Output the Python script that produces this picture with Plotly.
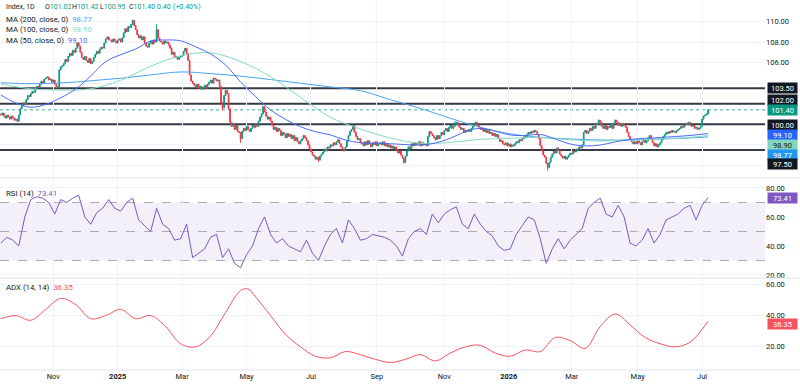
import pandas as pd
import plotly.graph_objects as go

# ---------------- data ----------------
START = "2024-09-13"
CLOSES = [
    100.9, 101.1, 100.8, 100.6, 100.9, 100.7, 100.5, 100.8, 100.6, 100.4, 100.5, 100.3,
    100.9, 101.5, 101.8, 102.1, 102.0, 102.4,
    102.8, 102.7, 103.0, 103.2, 103.1, 103.5, 103.7, 103.6, 103.9, 104.2, 104.0, 104.4, 104.5,
    104.6, 104.3, 104.4, 104.1, 104.3, 103.9, 103.7, 103.6,
    105.3, 105.6,
    105.7, 105.9, 106.3, 106.1, 106.6, 106.9, 106.7, 107.2, 107.0, 107.4, 107.9, 107.6,
    107.0, 106.5, 106.3, 106.6, 106.2, 106.0, 106.4, 105.9, 106.1, 106.5,
    106.8, 107.1, 106.9, 107.3, 107.5, 107.4, 107.9, 108.3, 108.5, 108.2,
    108.2, 108.0, 108.3, 108.1, 107.9, 108.2, 108.3, 108.0,
    108.4, 108.9, 109.3, 109.0, 109.5, 109.4, 109.7, 110.1, 109.6,
    109.2, 108.7, 108.4, 108.6, 108.2, 108.5, 107.9, 107.6, 107.5,
    107.9, 108.1, 107.8, 108.2, 108.0, 109.2, 108.4, 108.1,
    108.0, 107.8, 108.1, 107.9, 108.0, 107.7, 107.4,
    106.8, 107.0, 106.5, 106.6, 106.3, 106.5, 106.6,
    106.7, 107.1, 107.4, 106.9, 106.2,
    104.8, 104.2, 104.0,
    103.8, 103.6, 103.9, 103.5, 103.7, 103.4, 103.6, 103.8, 103.5,
    103.9, 104.1, 104.3, 104.0, 104.5, 104.4, 104.2, 104.3,
    103.7, 102.1, 101.6, 102.8, 103.3,
    103.0, 101.5, 100.2, 99.8, 100.0, 99.5, 99.9, 99.3, 99.2, 98.6,
    99.3, 99.6, 99.4, 99.8, 99.5, 99.3, 99.6, 99.9, 99.7, 100.0, 99.8, 100.3, 100.7, 101.0,
    101.7, 101.2, 100.8, 100.5, 100.7, 100.3,
    99.9, 99.5, 99.7, 99.3, 99.6, 99.4, 98.9, 99.2, 99.0, 98.7, 99.1, 98.8, 99.0,
    98.6, 98.9, 98.4, 98.7, 98.3, 98.1, 98.4,
    98.6, 98.9, 98.7, 98.4, 98.0, 97.6,
    97.3, 97.0, 96.9, 96.6, 96.8, 96.5, 96.9,
    97.1, 97.3, 97.6, 97.4, 97.8, 97.7, 98.0, 97.9, 98.2, 98.0, 98.3, 98.5,
    98.1, 97.8, 97.5, 97.4,
    97.8, 98.4, 98.9, 99.3, 99.5, 99.9,
    99.2, 98.8, 98.5, 98.6, 98.2,
    98.1, 97.9, 98.3, 98.0, 98.4, 98.1, 97.8, 98.2, 98.0, 98.3, 97.9, 98.1, 98.2,
    98.0, 98.3, 97.9, 98.1, 97.8, 98.0, 97.7, 97.9, 97.6,
    97.8, 97.5, 97.2, 97.4, 97.0, 96.7, 96.3, 96.9,
    97.4, 97.8, 97.6, 98.1, 97.9, 98.2, 98.0,
    98.1, 98.3, 97.9, 98.2, 98.0, 98.1, 97.9,
    98.8, 99.3, 99.1, 98.9,
    98.7, 98.5, 98.9, 98.6, 98.9,
    99.2, 99.0, 99.4, 99.6, 99.3, 99.7, 99.9, 99.6, 99.8,
    100.0, 100.2, 99.9,
    99.7, 99.5, 99.6, 99.2, 99.4, 99.3, 99.5, 99.3, 99.6,
    99.8, 100.1, 100.2, 99.9,
    99.7, 99.5, 99.6, 99.3, 99.5, 99.2, 99.4, 99.1,
    99.2, 98.9, 99.1, 98.8, 99.0,
    98.6, 98.3, 98.4, 98.1,
    98.0, 98.2, 97.9, 98.1, 97.8, 98.0, 97.9,
    98.1, 98.3, 98.2, 98.5, 98.4, 98.6, 98.8, 98.7, 99.0, 99.2,
    99.1, 99.3, 99.2, 99.4, 99.3, 99.0,
    98.6, 97.9, 97.4, 97.0, 96.8, 96.2, 95.8,
    96.3, 96.8, 97.1, 97.4, 97.2, 97.7, 97.5,
    97.1, 96.9, 96.7, 96.9, 96.6, 96.8,
    97.0, 97.2, 97.1, 97.4, 97.3, 97.6, 97.5, 97.8, 97.7, 98.0,
    99.2, 99.4, 99.1, 99.3, 99.6,
    99.4, 99.8, 99.6, 100.1, 100.0, 100.4, 100.2,
    99.8, 99.6, 99.9, 99.5, 99.8, 99.7, 100.0, 99.6,
    100.1, 100.4, 100.2, 99.9,
    100.1, 99.8, 100.0, 99.9, 99.7,
    99.2, 98.8, 98.5, 98.3, 98.1,
    98.3, 98.1, 98.4, 98.2, 98.0, 98.3, 98.5, 98.2, 98.4,
    98.7, 98.9, 98.6,
    98.2, 97.9, 98.1, 97.8, 98.0, 98.2,
    98.5, 98.8, 99.0, 99.2, 99.1, 99.3,
    99.2, 99.4, 99.3, 99.2, 99.4, 99.5,
    99.6, 99.8, 99.7, 99.9, 100.1, 100.0, 100.2, 99.9,
    99.8, 99.9, 99.6, 99.7, 99.5, 99.6, 99.8,
    100.5, 100.8, 100.9, 101.02, 101.40,
]
FIRST_OPEN = 101.0
LAST_OPEN = 101.02
WICK_HIGH = {52: 108.0, 88: 110.2, 104: 109.75, 175: 101.8, 235: 100.0,
             303: 100.3, 399: 100.45, 410: 100.45, 472: 101.42}
WICK_LOW = {11: 100.2, 38: 103.45, 148: 101.35, 160: 98.2, 212: 96.35,
            269: 96.15, 365: 95.5, 472: 100.95}

MA_BARS = [0, 20, 40, 60, 80, 100, 120, 140, 160, 180, 200, 220, 240, 260, 280,
           300, 320, 340, 360, 380, 400, 420, 440, 460, 472]
MA200 = [104.04, 103.95, 104.02, 104.23, 104.48, 104.80, 105.09, 104.93, 104.68,
         104.35, 103.99, 103.63, 103.27, 102.39, 101.55, 100.58, 99.71, 99.07,
         98.73, 98.57, 98.47, 98.47, 98.57, 98.67, 98.77]
MA100 = [103.92, 103.45, 103.33, 103.45, 104.28, 105.64, 106.67, 106.95, 106.11,
         104.63, 102.62, 100.68, 99.54, 98.67, 98.15, 98.23, 98.54, 98.64, 98.71,
         98.49, 98.37, 98.45, 98.57, 98.73, 98.90]
MA50_BARS = [0, 10, 20, 30, 40, 50, 60, 70, 80, 90, 100, 110, 120, 130, 140, 150,
             160, 170, 180, 190, 200, 210, 220, 230, 240, 260, 280, 290, 300, 310,
             320, 330, 340, 350, 360, 370, 380, 390, 400, 410, 420, 440, 460, 472]
MA50 = [102.85, 102.07, 101.66, 101.93, 102.58, 103.43, 104.70, 106.09, 106.77,
        107.32, 108.10, 108.20, 108.12, 107.54, 106.84, 105.77, 104.11, 102.70,
        101.39, 100.48, 99.76, 99.28, 98.96, 98.47, 98.21, 98.11, 97.98, 98.18,
        98.64, 99.28, 99.61, 99.32, 98.96, 98.91, 99.01, 98.57, 98.08, 97.89,
        97.98, 98.28, 98.52, 98.71, 98.91, 99.10]

RSI_STEP = 4
RSI = [42, 46, 44, 40, 60, 72, 74, 73, 70, 62, 72, 70, 73, 75, 60, 55, 63, 66, 72,
       66, 64, 70, 73, 58, 54, 50, 66, 55, 52, 44, 45, 55, 32, 35, 38, 46, 48, 32,
       38, 28, 25, 34, 40, 52, 60, 48, 42, 45, 40, 38, 36, 44, 35, 30, 40, 48, 52,
       42, 58, 52, 44, 45, 48, 47, 46, 44, 40, 33, 45, 50, 52, 48, 62, 56, 62, 65,
       67, 55, 52, 62, 55, 50, 47, 40, 37, 38, 48, 54, 60, 58, 45, 28, 38, 45, 38,
       44, 48, 52, 66, 70, 73, 62, 60, 68, 60, 42, 40, 44, 52, 42, 48, 58, 60, 62,
       66, 68, 58, 68, 73.41]

ADX_BARS = [0, 10, 20, 30, 40, 50, 60, 70, 80, 90, 100, 110, 120, 130, 140, 150,
            160, 165, 170, 180, 190, 200, 210, 220, 230, 240, 250, 260, 270, 280,
            290, 300, 310, 320, 330, 340, 350, 360, 370, 380, 390, 400, 410, 420,
            430, 440, 450, 460, 472]
ADX = [38, 40, 37, 44, 51, 47, 38, 40, 44, 38, 40, 33, 22, 20, 27, 42, 56, 57, 52,
       40, 28, 20, 14, 13, 17, 15, 12, 10, 12, 15, 11, 16, 20, 21, 16, 14, 18, 17,
       26, 24, 19, 33, 41, 34, 26, 22, 20, 23, 36.35]

LEVELS = [103.5, 102.0, 100.0, 97.5]
TICK_MONTHS = ["2024-11-01", "2025-01-01", "2025-03-03", "2025-05-01", "2025-07-01",
               "2025-09-01", "2025-11-03", "2026-01-01", "2026-03-02", "2026-05-01",
               "2026-07-01"]
TICK_TEXT = ["Nov", "<b>2025</b>", "Mar", "May", "Jul", "Sep", "Nov", "<b>2026</b>",
             "Mar", "May", "Jul"]

# ---------------- build ----------------
dates = pd.bdate_range(START, periods=len(CLOSES))
opens = [FIRST_OPEN] + CLOSES[:-1]
opens[-1] = LAST_OPEN
highs = [WICK_HIGH.get(i, max(o, c)) for i, (o, c) in enumerate(zip(opens, CLOSES))]
lows = [WICK_LOW.get(i, min(o, c)) for i, (o, c) in enumerate(zip(opens, CLOSES))]

UP, DOWN = "#089981", "#F23645"
C50, C100, C200 = "#4a6cf7", "#86d9c0", "#4aa3f0"
RSIC, ADXC = "#7E57C2", "#F7525F"
FONT = "Roboto"
TXT = "#131722"

fig = go.Figure()
fig.add_trace(go.Candlestick(
    x=dates, open=opens, high=highs, low=lows, close=CLOSES,
    increasing=dict(line=dict(color=UP, width=1), fillcolor=UP),
    decreasing=dict(line=dict(color=DOWN, width=1), fillcolor=DOWN),
    whiskerwidth=0, hoverinfo="skip", yaxis="y"))
fig.add_trace(go.Scatter(x=dates[MA_BARS], y=MA200, mode="lines",
                         line=dict(color=C200, width=1, shape="spline"), yaxis="y"))
fig.add_trace(go.Scatter(x=dates[MA_BARS], y=MA100, mode="lines",
                         line=dict(color=C100, width=1, shape="spline"), yaxis="y"))
fig.add_trace(go.Scatter(x=dates[MA50_BARS], y=MA50, mode="lines",
                         line=dict(color=C50, width=1, shape="spline"), yaxis="y"))
rsi_x = dates[::RSI_STEP][:len(RSI)]
fig.add_trace(go.Scatter(x=rsi_x, y=RSI, mode="lines",
                         line=dict(color=RSIC, width=1), yaxis="y2"))
fig.add_trace(go.Scatter(x=dates[ADX_BARS], y=ADX, mode="lines",
                         line=dict(color=ADXC, width=1, shape="spline"), yaxis="y3"))

W_PLOT = 765.0
H_PLOT = 370.0
def px(x):
    return x / W_PLOT
def py(y):
    return 1 - y / H_PLOT

x_left = dates[0] - pd.Timedelta(hours=13)
x_right = dates[-1] + pd.offsets.BDay(38)

grid = "#f0f3fa"
axfont = dict(family=FONT, size=7.5, color=TXT)
fig.update_layout(
    width=800, height=392, margin=dict(l=0, r=35, t=0, b=22),
    paper_bgcolor="white", plot_bgcolor="white", showlegend=False,
    font=dict(family=FONT, size=8, color=TXT),
    xaxis=dict(domain=[0, 1], anchor="y3", range=[x_left, x_right],
               rangeslider=dict(visible=False),
               rangebreaks=[dict(bounds=["sat", "mon"])],
               tickvals=TICK_MONTHS, ticktext=TICK_TEXT, tickfont=axfont,
               showgrid=True, gridcolor=grid, gridwidth=1, ticks="",
               showline=False, zeroline=False),
    yaxis=dict(domain=[py(177), 1], range=[94.87, 112.09], side="right",
               anchor="x", tickvals=[96, 98, 104, 106, 108, 110],
               ticktext=["", "", "", "106.00", "108.00", "110.00"],
               tickfont=axfont, gridcolor=grid, zeroline=False, ticks=""),
    yaxis2=dict(domain=[py(277), py(179)], range=[18.6, 86.2], side="right",
                anchor="x", tickvals=[20, 40, 60, 80],
                ticktext=["20.00", "40.00", "60.00", "80.00"],
                tickfont=axfont, gridcolor=grid, zeroline=False, ticks=""),
    yaxis3=dict(domain=[0, py(279)], range=[5.2, 63.4], side="right",
                anchor="x", tickvals=[20, 40, 60],
                ticktext=["20.00", "40.00", "60.00"],
                tickfont=axfont, gridcolor=grid, zeroline=False, ticks=""),
)

shapes = []
# RSI band and guide lines
shapes.append(dict(type="rect", xref="paper", x0=0, x1=1, yref="y2", y0=30, y1=70,
                   fillcolor="rgba(126,87,194,0.09)", line=dict(width=0), layer="below"))
for lv in (70, 50, 30):
    shapes.append(dict(type="line", xref="paper", x0=0, x1=1, yref="y2", y0=lv, y1=lv,
                       line=dict(color="#9598a1", width=0.8, dash="dash"),
                       layer="between"))
# support / resistance levels
for lv in LEVELS:
    shapes.append(dict(type="line", xref="paper", x0=0, x1=1, yref="y", y0=lv, y1=lv,
                       line=dict(color="#363a45", width=2, dash="solid"),
                       layer="between"))
# last price dotted line
shapes.append(dict(type="line", xref="paper", x0=0, x1=1, yref="y", y0=CLOSES[-1],
                   y1=CLOSES[-1], line=dict(color=UP, width=0.8, dash="dot"),
                   layer="between"))
# pane separators
for ysep in (178, 278, 370):
    shapes.append(dict(type="line", xref="paper", x0=0, x1=800 / W_PLOT, yref="paper",
                       y0=py(ysep), y1=py(ysep), line=dict(color="#e0e3eb", width=1)))
fig.update_layout(shapes=shapes)

ann = []
def label(text, yp, xp=4, size=7.8, color=TXT):
    ann.append(dict(text=text, xref="paper", yref="paper", x=px(xp), y=py(yp),
                    xanchor="left", yanchor="middle", showarrow=False,
                    font=dict(family=FONT, size=size, color=color)))

def g(v):
    return f"<span style='color:{UP}'>{v}</span>"

# header line, item by item
HS = 7.0
label("Index, 1D", 7, 4, HS)
label(f"O{g('101.02')}", 7, 43, HS)
label(f"H{g('101.42')}", 7, 70, HS)
label(f"L{g('100.95')}", 7, 98, HS)
label(f"C{g('101.40')}", 7, 127, HS)
label("0.40", 7, 155, HS, UP)
label("(+0.40%)", 7, 171, HS, UP)
label(f"MA (200, close, 0)\u00a0\u00a0<span style='color:{C200}'>98.77</span>", 19)
label(f"MA (100, close, 0)\u00a0\u00a0<span style='color:{C100}'>98.90</span>", 29.5)
label(f"MA (50, close, 0)\u00a0\u00a0<span style='color:{C50}'>99.10</span>", 40)
label(f"RSI (14)\u00a0\u00a0<span style='color:{RSIC}'>73.41</span>", 193)
label(f"ADX (14, 14)\u00a0\u00a0<span style='color:{ADXC}'>36.35</span>", 287)

def tag(val, text, bg, fg, yref="y", shift=0):
    ann.append(dict(text=text, xref="paper", x=px(767), yref=yref, y=val,
                    xanchor="left", yanchor="middle", showarrow=False, yshift=shift,
                    bgcolor=bg, width=28, height=9, borderpad=0.5, align="center",
                    font=dict(family=FONT, size=7.5, color=fg)))

tag(103.5, "103.50", "#131722", "white")
tag(102.0, "102.00", "#131722", "white", shift=4)
tag(101.4, "101.40", UP, "white")
tag(100.0, "100.00", "#131722", "white", shift=-0.5)
tag(99.10, "99.10", "#2962FF", "white", shift=-1.5)
tag(98.90, "98.90", "#81d6bd", "#131722", shift=-9.4)
tag(98.77, "98.77", "#2196F3", "white", shift=-18)
tag(97.50, "97.50", "#131722", "white", shift=-14)
tag(73.41, "73.41", RSIC, "white", yref="y2")
tag(36.35, "36.35", ADXC, "white", yref="y3", shift=-2.5)
fig.update_layout(annotations=ann)

fig.write_html("out.html")
